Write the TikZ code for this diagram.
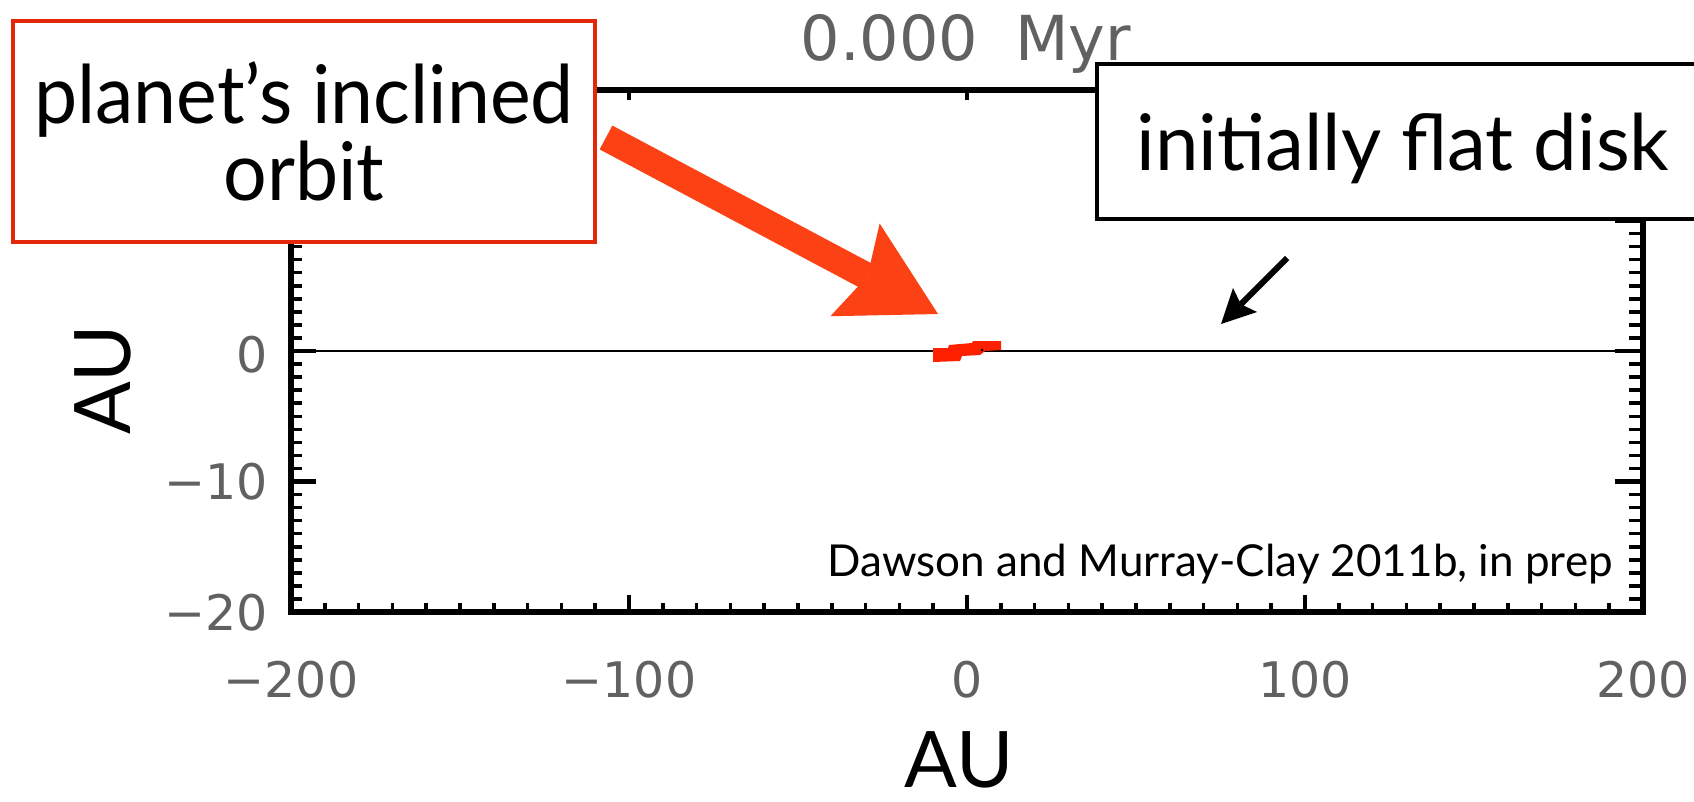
\documentclass[tikz,border=0pt]{standalone}
\usepackage{fontspec}
\setmainfont{Lato}
\newfontfamily\idl{DejaVu Sans}
\usetikzlibrary{arrows.meta}
\definecolor{boxred}{RGB}{226,40,8}
\definecolor{arrred}{RGB}{252,66,20}
\definecolor{blobred}{RGB}{255,32,0}
\newcommand\gillbig{\fontsize{77}{77}\selectfont\lineskiplimit=-500pt\relax}
\newcommand\gilldisk{\fontsize{78}{80}\selectfont}
\newcommand\tallline[1]{\scalebox{1}[1.05]{#1}}
\begin{document}
\begin{tikzpicture}[x=1pt,y=-1pt,
  frame/.style={line width=6pt},
  minortick/.style={line width=3.5pt},
  majortick/.style={line width=4.5pt},
  ticklabel/.style={font=\idl\fontsize{49}{49}\selectfont, text=black!62, inner sep=0pt},
  redbox/.style={draw=boxred, line width=4pt, fill=white, minimum width=582, minimum height=221, align=center, font=\gillbig, inner sep=0pt},
  blackbox/.style={draw=black, line width=4pt, fill=white, minimum width=612, minimum height=155, font=\gilldisk, inner sep=0pt, text height=57pt, text depth=0pt},
  bigarrow/.style={arrred, line width=27pt, -{Stealth[length=94pt,width=105pt,inset=14pt,line width=0pt]}},
  smallarrow/.style={black, line width=6pt, -{Stealth[length=34pt,width=34pt,inset=6pt,line width=0pt]}}]
\useasboundingbox (0,0) rectangle (1694,801);
\clip (0,0) rectangle (1694,801);
\fill[white] (0,0) rectangle (1694,801);
% disk line
\draw[line width=1.6pt] (291,351) -- (1643,351);
% frame
\draw[frame] (291,90) rectangle (1643,612);
% y minor ticks
\foreach \k in {-19,...,19} {
  \pgfmathsetmacro\yy{351-13.05*\k}
  \draw[minortick] (291,\yy) -- (302,\yy);
  \draw[minortick] (1643,\yy) -- (1629,\yy);
}
\foreach \k in {-20,-10,0,10,20} {
  \pgfmathsetmacro\yy{351-13.05*\k}
  \draw[majortick] (291,\yy) -- (316,\yy);
  \draw[majortick] (1643,\yy) -- (1615,\yy);
}
% x ticks
\foreach \k in {-19,...,19} {
  \pgfmathsetmacro\xx{967+33.8*\k}
  \draw[minortick] (\xx,612) -- (\xx,603);
}
\foreach \k in {-10,0,10} {
  \pgfmathsetmacro\xx{967+33.8*\k}
  \draw[majortick] (\xx,612) -- (\xx,595);
  \draw[majortick] (\xx,90) -- (\xx,100);
}
% tick labels
\node[ticklabel, anchor=base east] (y0) at (268,372) {0};
\node[ticklabel, anchor=base east] (ym10) at (268,499) {−10};
\node[ticklabel, anchor=base east] (ym20) at (268,630) {−20};
\node[ticklabel, anchor=base] (xm200) at (291,697) {−200};
\node[ticklabel, anchor=base] (xm100) at (629,697) {−100};
\node[ticklabel, anchor=base] (x0) at (967,697) {0};
\node[ticklabel, anchor=base] (x100) at (1305,697) {100};
\node[ticklabel, anchor=base] (x200) at (1643,697) {200};
% title
\node[font=\idl\fontsize{62}{62}\selectfont, text=black!62, anchor=base, inner sep=0pt] (title) at (966,60) {0.000\hspace{0.6em}Myr};
% axis titles
\node[font=\fontsize{78}{78}\selectfont, anchor=base, inner sep=0pt] (xlab) at (959,787) {AU};
\node[font=\fontsize{78}{78}\selectfont, anchor=base, rotate=90, inner sep=0pt] (ylab) at (130,380) {AU};
% citation
\node[font=\fontsize{44}{44}\selectfont, anchor=base east, inner sep=0pt] (cite) at (1613,576) {Dawson and Murray-Clay 2011b, in prep};
% planet blob
\fill[blobred] (933,348) -- (948,348) -- (949,345) -- (972,343) -- (973,341) -- (1001,341) -- (1001,350) -- (985,351) -- (980,355) -- (962,356) -- (960,361) -- (933,362) -- cycle;
\fill[black] (982,350) circle (1.5);
% boxes
\node[redbox] (planet) at (304,131.5) {\tallline{planet’s inclined}\\\tallline{orbit}};
\node[blackbox] (disk) at (1403,141.5) {initially flat disk};
% arrows
\coordinate (rtail) at (606,137.5);
\coordinate (rtip) at (938,314);
\draw[bigarrow] (rtail) -- (rtip);
\coordinate (btail) at (1287,258);
\coordinate (btip) at (1221,324);
\draw[smallarrow] (btail) -- (btip);
\end{tikzpicture}
\end{document}
